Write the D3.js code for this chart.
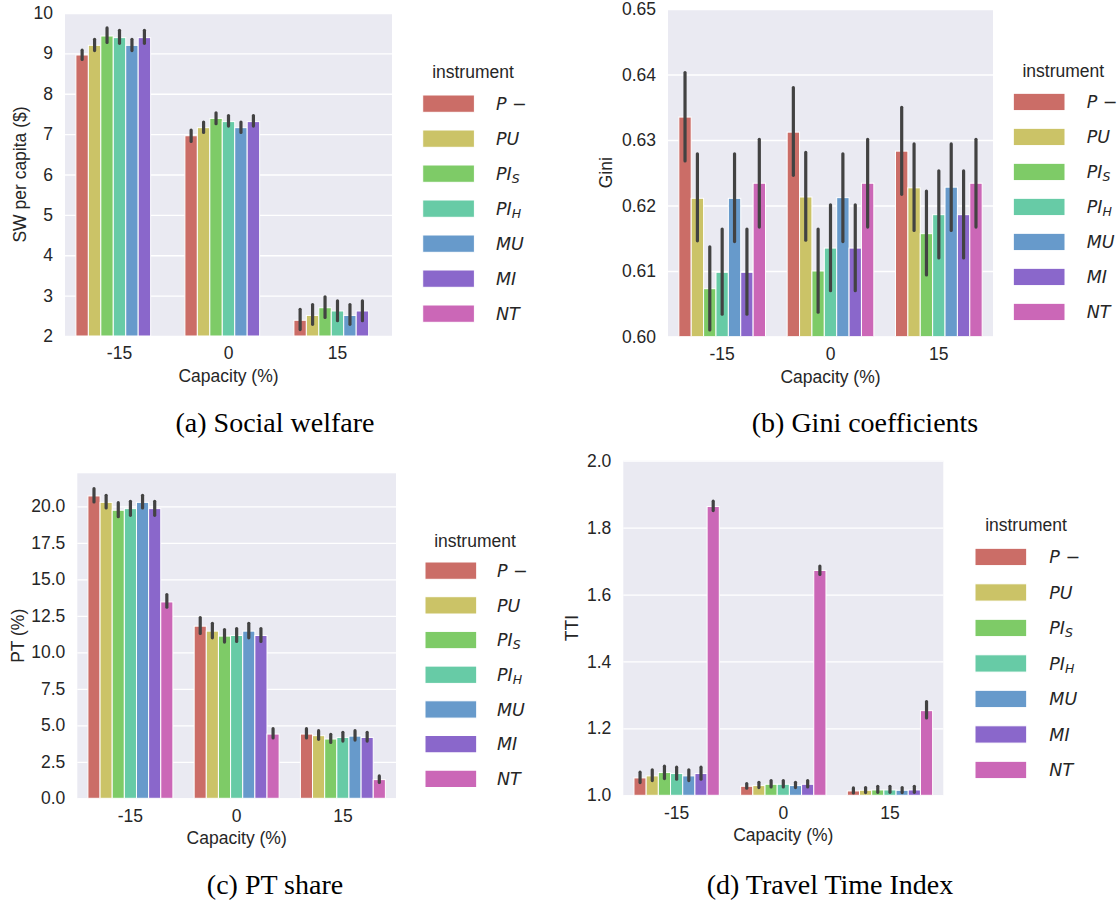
<!DOCTYPE html>
<html>
<head>
<meta charset="utf-8">
<script src="https://cdn.jsdelivr.net/npm/d3@7"></script>
<style>
  html, body { margin: 0; padding: 0; background: #ffffff; }
  svg { display: block; }
</style>
</head>
<body>
<svg id="chart" width="1120" height="905"></svg>
<script>
// ---------------- DATA ----------------
const categories = ["-15", "0", "15"];
const instruments = ["P −", "PU", "PI_S", "PI_H", "MU", "MI", "NT"];
const palette = ["#CB6D67", "#CBC367", "#7ECB67", "#67CBA6", "#679ACB", "#8A67CB", "#CB67B7"];

// (a) Social welfare: rows = instruments, columns = categories (NT not shown)
const swMean = [[8.96, 6.96, 2.39], [9.20, 7.16, 2.51], [9.43, 7.39, 2.70], [9.39, 7.31, 2.62], [9.20, 7.16, 2.51], [9.39, 7.31, 2.62], null];
const swLow  = [[8.85, 6.82, 2.16], [9.07, 7.04, 2.29], [9.27, 7.26, 2.46], [9.25, 7.20, 2.38], [9.07, 7.04, 2.29], [9.25, 7.20, 2.38], null];
const swHigh = [[9.08, 7.10, 2.66], [9.35, 7.30, 2.78], [9.63, 7.53, 2.97], [9.57, 7.46, 2.87], [9.35, 7.30, 2.78], [9.57, 7.46, 2.87], null];
const swTicks = [2, 3, 4, 5, 6, 7, 8, 9, 10];

// (b) Gini coefficients
const giniMean = [[0.6335, 0.6312, 0.6283], [0.6211, 0.6213, 0.6227], [0.6073, 0.6100, 0.6157], [0.6098, 0.6135, 0.6186], [0.6211, 0.6212, 0.6228], [0.6098, 0.6135, 0.6186], [0.6234, 0.6234, 0.6234]];
const giniLow  = [[0.6268, 0.6246, 0.6217], [0.6146, 0.6147, 0.6162], [0.6010, 0.6037, 0.6094], [0.6034, 0.6070, 0.6120], [0.6145, 0.6145, 0.6162], [0.6034, 0.6070, 0.6120], [0.6167, 0.6167, 0.6167]];
const giniHigh = [[0.6403, 0.6380, 0.6350], [0.6279, 0.6281, 0.6294], [0.6137, 0.6164, 0.6222], [0.6164, 0.6201, 0.6253], [0.6279, 0.6279, 0.6294], [0.6164, 0.6201, 0.6253], [0.6301, 0.6301, 0.6301]];
const giniTicks = [0.60, 0.61, 0.62, 0.63, 0.64, 0.65];

// (c) PT share
const ptMean = [[20.71, 11.79, 4.40], [20.27, 11.45, 4.29], [19.73, 11.11, 4.06], [19.84, 11.15, 4.17], [20.27, 11.45, 4.26], [19.84, 11.15, 4.17], [13.45, 4.40, 1.28]];
const ptLow  = [[20.30, 11.29, 4.13], [19.89, 10.99, 4.04], [19.29, 10.70, 3.83], [19.38, 10.74, 3.92], [19.89, 10.99, 3.99], [19.38, 10.74, 3.92], [13.09, 4.13, 1.09]];
const ptHigh = [[21.21, 12.38, 4.77], [20.75, 11.99, 4.63], [20.25, 11.56, 4.38], [20.34, 11.63, 4.52], [20.75, 11.99, 4.63], [20.34, 11.63, 4.52], [13.96, 4.77, 1.53]];
const ptTicks = [0, 2.5, 5, 7.5, 10, 12.5, 15, 17.5, 20];

// (d) Travel Time Index
const ttiMean = [[1.052, 1.027, 1.013], [1.058, 1.029, 1.015], [1.068, 1.033, 1.016], [1.065, 1.033, 1.016], [1.058, 1.029, 1.015], [1.065, 1.033, 1.016], [1.863, 1.672, 1.253]];
const ttiLow  = [[1.038, 1.021, 1.007], [1.044, 1.023, 1.008], [1.050, 1.025, 1.009], [1.048, 1.025, 1.009], [1.044, 1.023, 1.008], [1.048, 1.025, 1.009], [1.851, 1.660, 1.231]];
const ttiHigh = [[1.069, 1.035, 1.022], [1.076, 1.039, 1.023], [1.087, 1.044, 1.027], [1.084, 1.044, 1.027], [1.076, 1.039, 1.023], [1.084, 1.044, 1.027], [1.879, 1.685, 1.280]];
const ttiTicks = [1.0, 1.2, 1.4, 1.6, 1.8, 2.0];

const xLabel = "Capacity (%)";
const legendTitle = "instrument";

// ---------------- DRAW ----------------
const svg = d3.select("#chart");
const SANS = "'Liberation Sans', Arial, 'DejaVu Sans', sans-serif";
const TEXT = "#262626";

function drawPanel(p) {
  const g = svg.append("g");
  const x = d3.scaleBand().domain(categories).range([p.left, p.right]).padding(0);
  const bw = x.bandwidth();
  const groupW = bw * 0.8;
  const xi = d3.scaleBand().domain(d3.range(instruments.length)).range([-groupW / 2, groupW / 2]).padding(0);
  const y = d3.scaleLinear().domain(p.domain).range([p.bottom, p.top]);

  // background
  g.append("rect").attr("x", p.left).attr("y", p.top)
    .attr("width", p.right - p.left).attr("height", p.bottom - p.top)
    .attr("fill", "#EAEAF2");

  // y axis (grid + labels)
  const yAxis = d3.axisLeft(y).tickValues(p.ticks).tickFormat(d3.format(p.fmt))
    .tickSize(-(p.right - p.left)).tickPadding(12);
  const ya = g.append("g").attr("transform", `translate(${p.left},0)`).call(yAxis);
  ya.select(".domain").remove();
  ya.selectAll(".tick line").attr("stroke", "#ffffff").attr("stroke-width", 1.3);
  ya.selectAll(".tick text").attr("fill", TEXT).style("font-family", SANS).style("font-size", "17.5px");

  // x axis labels
  const xAxis = d3.axisBottom(x).tickSize(0).tickPadding(11);
  const xa = g.append("g").attr("transform", `translate(0,${p.bottom})`).call(xAxis);
  xa.select(".domain").remove();
  xa.selectAll(".tick text").attr("fill", TEXT).style("font-family", SANS).style("font-size", "17.5px");

  // bars
  const clipId = "clip" + p.id;
  svg.append("clipPath").attr("id", clipId).append("rect")
    .attr("x", p.left).attr("y", p.top - 20).attr("width", p.right - p.left).attr("height", p.bottom - p.top + 20);
  const bars = g.append("g").attr("clip-path", `url(#${clipId})`);
  const recs = [];
  instruments.forEach((ins, i) => {
    if (!p.mean[i]) return;
    categories.forEach((c, j) => {
      recs.push({ i, c, v: p.mean[i][j], lo: p.low[i][j], hi: p.high[i][j] });
    });
  });
  bars.selectAll("rect.bar").data(recs).enter().append("rect")
    .attr("class", "bar")
    .attr("x", d => x(d.c) + bw / 2 + xi(d.i))
    .attr("width", xi.bandwidth())
    .attr("y", d => y(d.v))
    .attr("height", d => y(p.domain[0]) - y(d.v))
    .attr("fill", d => palette[d.i])
    .attr("stroke", "#ffffff").attr("stroke-width", 1);
  bars.selectAll("line.err").data(recs).enter().append("line")
    .attr("class", "err")
    .attr("x1", d => x(d.c) + bw / 2 + xi(d.i) + xi.bandwidth() / 2)
    .attr("x2", d => x(d.c) + bw / 2 + xi(d.i) + xi.bandwidth() / 2)
    .attr("y1", d => y(d.lo)).attr("y2", d => y(d.hi))
    .attr("stroke", "#424242").attr("stroke-width", 3.2).attr("stroke-linecap", "round");

  // axis labels
  g.append("text").attr("x", (p.left + p.right) / 2).attr("y", p.bottom + 46)
    .attr("text-anchor", "middle").attr("fill", TEXT)
    .style("font-family", SANS).style("font-size", "17.5px").text(xLabel);
  g.append("text").attr("transform", `translate(${p.ylabelX},${(p.top + p.bottom) / 2}) rotate(-90)`)
    .attr("text-anchor", "middle").attr("dy", "0.35em").attr("fill", TEXT)
    .style("font-family", SANS).style("font-size", "17.5px").text(p.ylabel);

  // legend
  const L = p.legend;
  g.append("text").attr("x", L.titleX).attr("y", L.titleY).attr("dy", "0.35em")
    .attr("text-anchor", "middle").attr("fill", TEXT)
    .style("font-family", SANS).style("font-size", "17.5px").text(legendTitle);
  instruments.forEach((ins, i) => {
    const yy = L.patchY0 + i * L.step;
    g.append("rect").attr("x", L.patchX).attr("y", yy).attr("width", 51.7).attr("height", 17.3)
      .attr("fill", palette[i]).attr("stroke", "#ffffff").attr("stroke-width", 1);
    const t = g.append("text").attr("x", L.labelX).attr("y", yy + 8.65).attr("dy", "0.36em")
      .attr("fill", TEXT).style("font-family", "'DejaVu Sans', sans-serif")
      .style("font-style", "italic").style("font-size", "17.5px");
    const parts = ins.split("_");
    t.append("tspan").text(parts[0]);
    if (parts[1]) {
      t.append("tspan").attr("dy", "0.25em").style("font-size", "12.5px").text(parts[1]);
    }
  });

  // caption
  svg.append("text").attr("x", p.capX).attr("y", p.capY).attr("text-anchor", "middle")
    .attr("fill", "#000000").style("font-family", "'Liberation Serif', 'Times New Roman', serif")
    .style("font-size", "28px").text(p.caption);
}

drawPanel({
  id: "a", left: 65, right: 392, top: 13, bottom: 336, domain: [2, 10], ticks: swTicks, fmt: "d",
  mean: swMean, low: swLow, high: swHigh, ylabel: "SW per capita ($)", ylabelX: 19.5,
  legend: { titleX: 473, titleY: 72, patchX: 422.7, patchY0: 95, step: 35, labelX: 496 },
  caption: "(a) Social welfare", capX: 275, capY: 432
});
drawPanel({
  id: "b", left: 668, right: 993, top: 9, bottom: 336.5, domain: [0.60, 0.65], ticks: giniTicks, fmt: ".2f",
  mean: giniMean, low: giniLow, high: giniHigh, ylabel: "Gini", ylabelX: 606,
  legend: { titleX: 1063.3, titleY: 71, patchX: 1013.3, patchY0: 93.3, step: 35, labelX: 1086.7 },
  caption: "(b) Gini coefficients", capX: 865, capY: 432
});
drawPanel({
  id: "c", left: 77.3, right: 396, top: 473.3, bottom: 798.3, domain: [0, 22.26], ticks: ptTicks, fmt: ".1f",
  mean: ptMean, low: ptLow, high: ptHigh, ylabel: "PT (%)", ylabelX: 17.5,
  legend: { titleX: 475, titleY: 541, patchX: 425, patchY0: 562, step: 34.7, labelX: 497 },
  caption: "(c) PT share", capX: 275, capY: 894
});
drawPanel({
  id: "d", left: 623.3, right: 943.3, top: 460.7, bottom: 795.3, domain: [1.0, 2.0], ticks: ttiTicks, fmt: ".1f",
  mean: ttiMean, low: ttiLow, high: ttiHigh, ylabel: "TTI", ylabelX: 571.5,
  legend: { titleX: 1026, titleY: 525, patchX: 975, patchY0: 548.3, step: 35.5, labelX: 1049.3 },
  caption: "(d) Travel Time Index", capX: 830, capY: 894
});
</script>
</body>
</html>
